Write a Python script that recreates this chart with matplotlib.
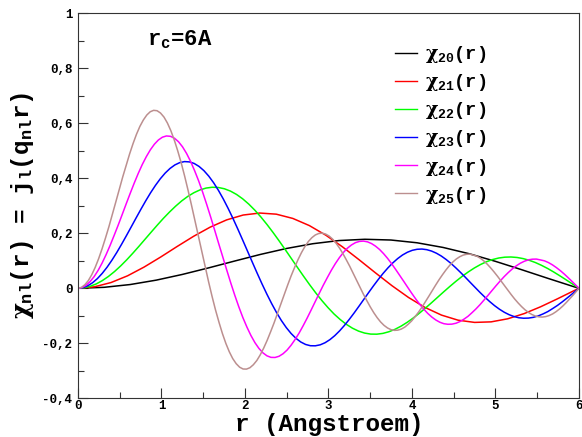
import matplotlib
matplotlib.use("Agg")
import matplotlib.pyplot as plt
from matplotlib.ticker import MultipleLocator

plt.rcParams['font.family'] = ['Liberation Mono', 'DejaVu Sans']
plt.rcParams['font.weight'] = 'bold'
plt.rcParams['mathtext.fontset'] = 'custom'
plt.rcParams['mathtext.rm'] = 'Liberation Mono:bold'
plt.rcParams['mathtext.bf'] = 'Liberation Mono:bold'
plt.rcParams['mathtext.it'] = 'DejaVu Serif'

# radial functions chi_2n(r), r_c = 6 A
r20 = [0, 0.312, 0.625, 0.937, 1.249, 1.562, 1.874, 2.186, 2.498, 2.811, 3.123,
       3.435, 3.748, 4.060, 4.372, 4.685, 4.997, 5.309, 5.622, 5.934, 6.0]
chi20 = [0, 0.0035, 0.0136, 0.0296, 0.0503, 0.0740, 0.0989, 0.1232, 0.1448, 0.1620,
         0.1735, 0.1782, 0.1755, 0.1655, 0.1485, 0.1257, 0.0982, 0.0680, 0.0367,
         0.0062, 0]

r21 = [0, 0.198, 0.396, 0.594, 0.792, 0.990, 1.187, 1.385, 1.583, 1.781, 1.979,
       2.177, 2.375, 2.573, 2.771, 2.969, 3.167, 3.364, 3.562, 3.760, 3.958, 4.156,
       4.354, 4.552, 4.750, 4.948, 5.146, 5.344, 5.541, 5.739, 5.937, 6.0]
chi21 = [0, 0.0054, 0.0209, 0.0454, 0.0772, 0.1136, 0.1519, 0.1891, 0.2223, 0.2488,
         0.2664, 0.2736, 0.2695, 0.2540, 0.2280, 0.1929, 0.1508, 0.1044, 0.0563,
         0.0095, -0.0333, -0.0697, -0.0976, -0.1160, -0.1241, -0.1221, -0.1110,
         -0.0920, -0.0672, -0.0388, -0.0092, 0]

r22 = [0, 0.073, 0.146, 0.219, 0.292, 0.365, 0.438, 0.511, 0.584, 0.657, 0.730,
       0.803, 0.876, 0.949, 1.022, 1.096, 1.169, 1.242, 1.315, 1.388, 1.461, 1.534,
       1.607, 1.680, 1.753, 1.826, 1.899, 1.972, 2.045, 2.118, 2.191, 2.264, 2.337,
       2.410, 2.483, 2.556, 2.629, 2.702, 2.775, 2.848, 2.921, 2.994, 3.067, 3.141,
       3.214, 3.287, 3.360, 3.433, 3.506, 3.579, 3.652, 3.725, 3.798, 3.871, 3.944,
       4.017, 4.090, 4.163, 4.236, 4.309, 4.382, 4.455, 4.528, 4.601, 4.674, 4.747,
       4.820, 4.893, 4.966, 5.039, 5.112, 5.185, 5.259, 5.332, 5.405, 5.478, 5.551,
       5.624, 5.697, 5.770, 5.843, 5.916, 5.989, 6.0]
chi22 = [0, 0.0018, 0.0072, 0.0159, 0.0280, 0.0431, 0.0610, 0.0813, 0.1036, 0.1276,
         0.1526, 0.1783, 0.2040, 0.2294, 0.2540, 0.2772, 0.2985, 0.3177, 0.3341,
         0.3475, 0.3577, 0.3644, 0.3674, 0.3666, 0.3619, 0.3534, 0.3412, 0.3254,
         0.3062, 0.2840, 0.2591, 0.2318, 0.2026, 0.1719, 0.1402, 0.1079, 0.0756,
         0.0437, 0.0127, -0.0169, -0.0447, -0.0703, -0.0936, -0.1138, -0.1311,
         -0.1451, -0.1557, -0.1629, -0.1666, -0.1669, -0.1640, -0.1579, -0.1490,
         -0.1374, -0.1235, -0.1077, -0.0902, -0.0716, -0.0521, -0.0322, -0.0123,
         0.0071, 0.0258, 0.0434, 0.0594, 0.0738, 0.0863, 0.0966, 0.1045, 0.1101,
         0.1131, 0.1138, 0.1120, 0.1079, 0.1017, 0.0936, 0.0835, 0.0721, 0.0593,
         0.0456, 0.0314, 0.0168, 0.0023, 0]

r23 = [0, 0.058, 0.116, 0.174, 0.232, 0.290, 0.348, 0.406, 0.464, 0.522, 0.580,
       0.638, 0.696, 0.754, 0.812, 0.870, 0.928, 0.986, 1.044, 1.102, 1.160, 1.218,
       1.276, 1.334, 1.392, 1.450, 1.508, 1.566, 1.624, 1.682, 1.740, 1.798, 1.856,
       1.914, 1.972, 2.030, 2.088, 2.146, 2.204, 2.262, 2.320, 2.378, 2.436, 2.494,
       2.552, 2.610, 2.668, 2.726, 2.784, 2.842, 2.901, 2.959, 3.017, 3.075, 3.133,
       3.191, 3.249, 3.307, 3.365, 3.423, 3.481, 3.539, 3.597, 3.655, 3.713, 3.771,
       3.829, 3.887, 3.945, 4.003, 4.061, 4.119, 4.177, 4.235, 4.293, 4.351, 4.409,
       4.467, 4.525, 4.583, 4.641, 4.699, 4.757, 4.815, 4.873, 4.931, 4.989, 5.047,
       5.105, 5.163, 5.221, 5.279, 5.337, 5.395, 5.453, 5.511, 5.569, 5.627, 5.685,
       5.743, 5.801, 5.859, 5.917, 5.975, 6.0]
chi23 = [0, 0.0023, 0.0090, 0.0200, 0.0351, 0.0541, 0.0765, 0.1020, 0.1299, 0.1600,
         0.1914, 0.2235, 0.2558, 0.2876, 0.3184, 0.3476, 0.3743, 0.3983, 0.4189,
         0.4357, 0.4485, 0.4569, 0.4607, 0.4596, 0.4538, 0.4431, 0.4278, 0.4079,
         0.3839, 0.3561, 0.3249, 0.2906, 0.2540, 0.2155, 0.1757, 0.1353, 0.0948,
         0.0548, 0.0159, -0.0212, -0.0560, -0.0882, -0.1173, -0.1427, -0.1643,
         -0.1819, -0.1953, -0.2043, -0.2089, -0.2092, -0.2056, -0.1980, -0.1868,
         -0.1723, -0.1549, -0.1350, -0.1131, -0.0898, -0.0653, -0.0404, -0.0155,
         0.0089, 0.0323, 0.0544, 0.0745, 0.0925, 0.1081, 0.1211, 0.1310, 0.1380,
         0.1418, 0.1427, 0.1404, 0.1353, 0.1275, 0.1173, 0.1047, 0.0904, 0.0743,
         0.0572, 0.0394, 0.0210, 0.0029, -0.0152, -0.0323, -0.0484, -0.0631, -0.0760,
         -0.0871, -0.0960, -0.1027, -0.1071, -0.1089, -0.1084, -0.1057, -0.1006,
         -0.0933, -0.0847, -0.0737, -0.0622, -0.0491, -0.0351, -0.0209, -0.0063, 0]

r24 = [0, 0.048, 0.096, 0.144, 0.193, 0.241, 0.289, 0.337, 0.385, 0.433, 0.482,
       0.530, 0.578, 0.626, 0.674, 0.722, 0.770, 0.819, 0.867, 0.915, 0.963, 1.011,
       1.059, 1.108, 1.156, 1.204, 1.252, 1.300, 1.348, 1.396, 1.445, 1.493, 1.541,
       1.589, 1.637, 1.685, 1.734, 1.782, 1.830, 1.878, 1.926, 1.974, 2.023, 2.071,
       2.119, 2.167, 2.215, 2.263, 2.311, 2.360, 2.408, 2.456, 2.504, 2.552, 2.600,
       2.649, 2.697, 2.745, 2.793, 2.841, 2.889, 2.937, 2.986, 3.034, 3.082, 3.130,
       3.178, 3.226, 3.275, 3.323, 3.371, 3.419, 3.467, 3.515, 3.563, 3.612, 3.660,
       3.708, 3.756, 3.804, 3.852, 3.901, 3.949, 3.997, 4.045, 4.093, 4.141, 4.189,
       4.238, 4.286, 4.334, 4.382, 4.430, 4.478, 4.527, 4.575, 4.623, 4.671, 4.719,
       4.767, 4.816, 4.864, 4.912, 4.960, 5.008, 5.056, 5.104, 5.153, 5.201, 5.249,
       5.297, 5.345, 5.393, 5.442, 5.490, 5.538, 5.586, 5.634, 5.682, 5.730, 5.779,
       5.827, 5.875, 5.923, 5.971, 6.0]
chi24 = [0, 0.0027, 0.0108, 0.0240, 0.0423, 0.0650, 0.0919, 0.1226, 0.1562, 0.1923,
         0.2301, 0.2687, 0.3076, 0.3458, 0.3829, 0.4179, 0.4501, 0.4790, 0.5037,
         0.5239, 0.5393, 0.5494, 0.5539, 0.5526, 0.5456, 0.5328, 0.5144, 0.4905,
         0.4616, 0.4282, 0.3906, 0.3495, 0.3054, 0.2592, 0.2113, 0.1627, 0.1140,
         0.0659, 0.0191, -0.0255, -0.0674, -0.1060, -0.1410, -0.1716, -0.1976,
         -0.2187, -0.2348, -0.2456, -0.2512, -0.2516, -0.2472, -0.2380, -0.2247,
         -0.2071, -0.1862, -0.1624, -0.1360, -0.1080, -0.0786, -0.0486, -0.0186,
         0.0107, 0.0388, 0.0654, 0.0896, 0.1112, 0.1300, 0.1456, 0.1575, 0.1660,
         0.1705, 0.1716, 0.1689, 0.1627, 0.1533, 0.1410, 0.1259, 0.1087, 0.0894,
         0.0688, 0.0473, 0.0253, 0.0034, -0.0182, -0.0388, -0.0582, -0.0759, -0.0914,
         -0.1047, -0.1154, -0.1235, -0.1288, -0.1309, -0.1304, -0.1271, -0.1210,
         -0.1122, -0.1019, -0.0887, -0.0748, -0.0591, -0.0423, -0.0251, -0.0076,
         0.0098, 0.0265, 0.0424, 0.0571, 0.0703, 0.0816, 0.0910, 0.0982, 0.1033,
         0.1058, 0.1062, 0.1031, 0.0999, 0.0936, 0.0852, 0.0751, 0.0636, 0.0509,
         0.0372, 0.0231, 0.0087, 0]

r25 = [0, 0.041, 0.082, 0.124, 0.165, 0.206, 0.247, 0.288, 0.329, 0.371, 0.412,
       0.453, 0.494, 0.535, 0.577, 0.618, 0.659, 0.700, 0.741, 0.783, 0.824, 0.865,
       0.906, 0.947, 0.988, 1.030, 1.071, 1.112, 1.153, 1.194, 1.236, 1.277, 1.318,
       1.359, 1.400, 1.441, 1.483, 1.524, 1.565, 1.606, 1.647, 1.689, 1.730, 1.771,
       1.812, 1.853, 1.895, 1.936, 1.977, 2.018, 2.059, 2.100, 2.142, 2.183, 2.224,
       2.265, 2.306, 2.348, 2.389, 2.430, 2.471, 2.512, 2.553, 2.595, 2.636, 2.677,
       2.718, 2.759, 2.801, 2.842, 2.883, 2.924, 2.965, 3.007, 3.048, 3.089, 3.130,
       3.171, 3.212, 3.254, 3.295, 3.336, 3.377, 3.418, 3.460, 3.501, 3.542, 3.583,
       3.624, 3.665, 3.707, 3.748, 3.789, 3.830, 3.871, 3.913, 3.954, 3.995, 4.036,
       4.077, 4.119, 4.160, 4.201, 4.242, 4.283, 4.324, 4.366, 4.407, 4.448, 4.489,
       4.530, 4.572, 4.613, 4.654, 4.695, 4.736, 4.777, 4.819, 4.860, 4.901, 4.942,
       4.983, 5.025, 5.066, 5.107, 5.148, 5.189, 5.230, 5.272, 5.313, 5.354, 5.395,
       5.436, 5.478, 5.519, 5.560, 5.601, 5.642, 5.684, 5.725, 5.766, 5.807, 5.848,
       5.889, 5.931, 5.972, 6.0]
chi25 = [0, 0.0032, 0.0127, 0.0281, 0.0494, 0.0760, 0.1074, 0.1433, 0.1825, 0.2247,
         0.2688, 0.3140, 0.3593, 0.4041, 0.4473, 0.4883, 0.5258, 0.5596, 0.5885,
         0.6121, 0.6300, 0.6419, 0.6471, 0.6457, 0.6374, 0.6225, 0.6009, 0.5731,
         0.5393, 0.5003, 0.4564, 0.4083, 0.3568, 0.3028, 0.2469, 0.1901, 0.1331,
         0.0770, 0.0224, -0.0298, -0.0787, -0.1239, -0.1648, -0.2005, -0.2308,
         -0.2555, -0.2743, -0.2870, -0.2935, -0.2939, -0.2889, -0.2781, -0.2625,
         -0.2420, -0.2175, -0.1897, -0.1589, -0.1262, -0.0918, -0.0568, -0.0217,
         0.0124, 0.0454, 0.0764, 0.1047, 0.1300, 0.1519, 0.1701, 0.1840, 0.1939,
         0.1992, 0.2005, 0.1973, 0.1901, 0.1791, 0.1648, 0.1471, 0.1270, 0.1044,
         0.0804, 0.0553, 0.0295, 0.0040, -0.0213, -0.0454, -0.0679, -0.0886, -0.1068,
         -0.1224, -0.1348, -0.1443, -0.1504, -0.1530, -0.1523, -0.1485, -0.1414,
         -0.1310, -0.1190, -0.1036, -0.0874, -0.0690, -0.0494, -0.0293, -0.0089,
         0.0114, 0.0310, 0.0496, 0.0667, 0.0821, 0.0954, 0.1063, 0.1148, 0.1207,
         0.1236, 0.1241, 0.1205, 0.1167, 0.1093, 0.0996, 0.0878, 0.0743, 0.0595,
         0.0435, 0.0270, 0.0101, -0.0068, -0.0232, -0.0390, -0.0536, -0.0667,
         -0.0783, -0.0878, -0.0954, -0.1009, -0.1038, -0.1047, -0.1030, -0.0992,
         -0.0933, -0.0852, -0.0755, -0.0644, -0.0519, -0.0386, -0.0245, -0.0101, 0]

labels = ['20', '21', '22', '23', '24', '25']
colors = ['black', '#ff0000', '#00ff00', '#0000ff', '#ff00ff', '#bc8f8f']

x_ticks = [0, 1, 2, 3, 4, 5, 6]
x_tick_labels = ['0', '1', '2', '3', '4', '5', '6']
y_ticks = [-0.4, -0.2, 0, 0.2, 0.4, 0.6, 0.8, 1.0]
y_tick_labels = ['-0,4', '-0,2', '0', '0,2', '0,4', '0,6', '0,8', '1']

W, H = 582, 437
fig = plt.figure(figsize=(W / 100, H / 100), dpi=100)
ax = fig.add_axes([0.134, 0.0886, 0.8608, 0.881])

curves = [(r20, chi20), (r21, chi21), (r22, chi22), (r23, chi23), (r24, chi24), (r25, chi25)]
for (r, chi), lab, col in zip(curves, labels, colors):
    ax.plot(r, chi, color=col, lw=1.1, label=r'$\chi_{%s}$(r)' % lab)

ax.set_xlim(0, 6)
ax.set_ylim(-0.4, 1.0)
ax.set_xticks(x_ticks)
ax.set_xticklabels(x_tick_labels)
ax.set_yticks(y_ticks)
ax.set_yticklabels(y_tick_labels)
ax.xaxis.set_minor_locator(MultipleLocator(0.5))
ax.yaxis.set_minor_locator(MultipleLocator(0.1))
ax.tick_params(which='both', direction='in', top=False, right=False,
               labelsize=9, width=0.8, color='#333333')
ax.tick_params(which='major', length=7, pad=4)
ax.tick_params(axis='x', which='major', pad=1.2)
ax.tick_params(which='minor', length=4)
for s in ax.spines.values():
    s.set_linewidth(0.8)
    s.set_color('#333333')

fig.text(147 / W, 1 - 45 / H, r'$\mathrm{r_c}$=6A', fontsize=16,
         fontweight='bold', va='baseline', ha='left')

leg = ax.legend(loc='upper left', bbox_to_anchor=(0.633, 0.92), frameon=False,
                fontsize=13.5, handlelength=1.17, handletextpad=0.43,
                labelspacing=0.38, borderaxespad=0, borderpad=0)
for line in leg.get_lines():
    line.set_linewidth(1.0)

fig.text(329 / W, 1 - 430.5 / H, 'r (Angstroem)', fontsize=17.5, fontweight='bold',
         ha='center', va='baseline')
fig.text(23 / W, 1 - 205 / H,
         r'$\chi_{\mathrm{nl}}$(r) = j$_{\mathrm{l}}$(q$_{\mathrm{nl}}$r)',
         fontsize=17.5, fontweight='bold', rotation=90, ha='center', va='center')

fig.savefig('out.png', dpi=100)
